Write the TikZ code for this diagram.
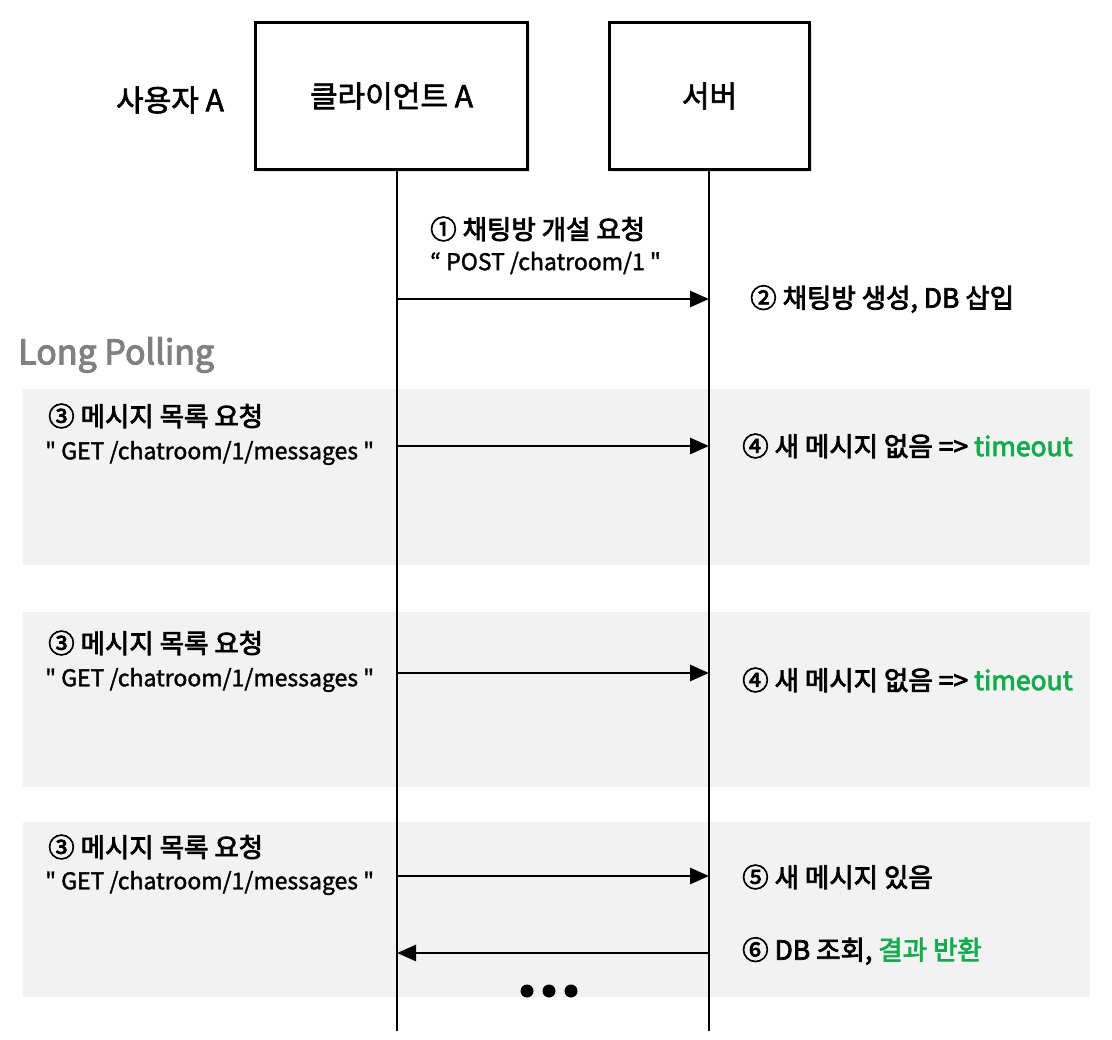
\documentclass[tikz,border=0pt]{standalone}
\usepackage{fontspec}
\setmainfont{Noto Sans CJK KR}[Ligatures=TeXOff]
\newfontfamily\medA{Noto Sans CJK KR}[Ligatures=TeXOff,FakeBold=3]
\newfontfamily\medB{Noto Sans CJK KR}[Ligatures=TeXOff,FakeBold=2]
\newfontfamily\medC{Noto Sans CJK KR}[Ligatures=TeXOff,FakeBold=1.6]
\usetikzlibrary{arrows.meta,shadows}
\definecolor{band}{HTML}{F2F2F2}
\definecolor{okgreen}{HTML}{16AA4E}
\definecolor{lpgray}{HTML}{808080}
\tikzset{
  actor/.style={draw=black,line width=3pt,fill=white,minimum height=147pt,inner sep=0pt,font=\medB\fontsize{30}{34}\selectfont,
     drop shadow={shadow xshift=2.5pt,shadow yshift=-2.5pt,opacity=0.2}},
  life/.style={line width=2.8pt},
  msg/.style={line width=2.8pt,-{Triangle[length=19pt,width=16pt]}},
  lbl/.style={anchor=west,inner sep=0pt,font=\medA\fontsize{26.5}{30}\selectfont},
  sub/.style={anchor=west,inner sep=0pt,font=\medC\fontsize{23}{27}\selectfont},
  bandbox/.style={fill=band,draw=none},
  dot/.style={circle,fill=black,inner sep=0pt,minimum size=13pt}
}
\begin{document}
\begin{tikzpicture}[x=1pt,y=-1pt]
\useasboundingbox (0,0) rectangle (1112,1040);
\fill[white] (0,0) rectangle (1112,1040);
% bands
\path[bandbox] (23,389) rectangle (1090,565);
\path[bandbox] (23,612) rectangle (1090,787);
\path[bandbox] (23,822) rectangle (1090,997);
% actors
\node[actor,minimum width=272pt] (client) at (391.5,96) {클라이언트 A};
\node[actor,minimum width=200pt] (server) at (709.5,96) {서버};
\node[inner sep=0pt,font=\medB\fontsize{30}{34}\selectfont] (user) at (170,100) {사용자 A};
% lifelines
\coordinate (cend) at (397,1031);
\coordinate (send) at (709,1031);
\draw[life] (client.south -| cend) -- (cend);
\draw[life] (server.south -| send) -- (send);
% message points
\foreach \n/\y in {1/299,2/446,3/673,4/876,5/953}{
  \coordinate (c\n) at (397,\y);
  \coordinate (s\n) at (709,\y);
}
\draw[msg] (c1) -- (s1);
\draw[msg] (c2) -- (s2);
\draw[msg] (c3) -- (s3);
\draw[msg] (c4) -- (s4);
\draw[msg] (s5) -- (c5);
% labels
\node[lbl] (l1) at (430,229) {① 채팅방 개설 요청};
\node[sub] (l1b) at (430,263) {“ POST /chatroom/1 "};
\node[lbl] (l2) at (750,299) {② 채팅방 생성, DB 삽입};
\node[anchor=west,inner sep=0pt,text=lpgray,font=\medA\fontsize{34}{38}\selectfont] (lp) at (18,355) {Long Polling};
\foreach \i/\ya/\yb in {a/416/453,b/643/680,c/847/883}{
  \node[lbl] (r\i) at (48,\ya) {③ 메시지 목록 요청};
  \node[sub] (g\i) at (45,\yb) {" GET /chatroom/1/messages "};
}
\node[lbl] (t1) at (742,446) {④ 새 메시지 없음 => \textcolor{okgreen}{timeout}};
\node[lbl] (t2) at (742,680) {④ 새 메시지 없음 => \textcolor{okgreen}{timeout}};
\node[lbl] (t3) at (742,877) {⑤ 새 메시지 있음};
\node[lbl] (t4) at (742,951) {⑥ DB 조회, \textcolor{okgreen}{결과 반환}};
% dots
\node[dot] (d1) at (527,991) {};
\node[dot] (d2) at (549,991) {};
\node[dot] (d3) at (571,991) {};
\end{tikzpicture}
\end{document}
